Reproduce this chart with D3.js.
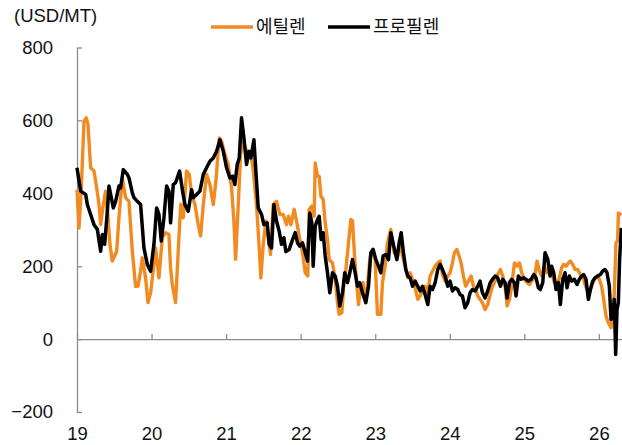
<!DOCTYPE html>
<html>
<head>
<meta charset="utf-8">
<script src="https://cdn.jsdelivr.net/npm/d3@7"></script>
<style>
  body { margin: 0; background: #fff; }
  text { font-family: "Liberation Sans", "Noto Sans CJK KR", sans-serif; }
</style>
</head>
<body>
<div id="viz"></div>
<script>
// weekly-ish prices, x = decimal year
const ethYear = [2019.000,2019.027,2019.058,2019.094,2019.125,2019.147,2019.183,2019.228,2019.264,2019.295,2019.317,2019.353,2019.384,2019.416,2019.442,2019.473,2019.505,2019.532,2019.563,2019.607,2019.630,2019.652,2019.697,2019.742,2019.786,2019.818,2019.853,2019.876,2019.920,2019.952,2019.987,2020.032,2020.054,2020.099,2020.144,2020.188,2020.233,2020.255,2020.278,2020.322,2020.367,2020.392,2020.425,2020.470,2020.506,2020.537,2020.582,2020.626,2020.658,2020.694,2020.738,2020.783,2020.828,2020.863,2020.908,2020.939,2020.984,2021.029,2021.073,2021.105,2021.127,2021.163,2021.194,2021.230,2021.274,2021.319,2021.355,2021.408,2021.444,2021.466,2021.498,2021.534,2021.565,2021.596,2021.632,2021.676,2021.721,2021.766,2021.810,2021.837,2021.869,2021.913,2021.958,2021.989,2022.025,2022.061,2022.096,2022.114,2022.150,2022.181,2022.195,2022.226,2022.248,2022.271,2022.302,2022.329,2022.360,2022.382,2022.427,2022.463,2022.494,2022.516,2022.552,2022.583,2022.606,2022.642,2022.673,2022.695,2022.726,2022.753,2022.776,2022.807,2022.838,2022.865,2022.896,2022.927,2022.963,2022.999,2023.030,2023.075,2023.097,2023.133,2023.164,2023.209,2023.254,2023.303,2023.334,2023.366,2023.401,2023.437,2023.468,2023.500,2023.535,2023.571,2023.602,2023.634,2023.669,2023.705,2023.736,2023.768,2023.803,2023.839,2023.870,2023.902,2023.937,2023.973,2024.004,2024.036,2024.062,2024.094,2024.125,2024.152,2024.183,2024.214,2024.250,2024.286,2024.317,2024.348,2024.375,2024.406,2024.438,2024.474,2024.509,2024.541,2024.572,2024.608,2024.643,2024.679,2024.710,2024.742,2024.769,2024.800,2024.831,2024.867,2024.903,2024.934,2024.965,2025.001,2025.037,2025.068,2025.099,2025.135,2025.171,2025.202,2025.233,2025.269,2025.305,2025.336,2025.367,2025.403,2025.439,2025.470,2025.501,2025.528,2025.559,2025.591,2025.617,2025.649,2025.680,2025.716,2025.751,2025.783,2025.814,2025.841,2025.872,2025.903,2025.939,2025.975,2026.006,2026.037,2026.064,2026.096,2026.127,2026.163,2026.185,2026.207,2026.229,2026.250,2026.262,2026.300];
const ethPrice = [410,305,415,598,607,589,470,461,415,369,314,369,406,333,260,214,228,241,333,442,415,388,378,241,145,145,187,223,168,100,127,205,250,168,278,292,287,196,150,100,278,370,333,461,452,397,369,314,283,369,452,424,369,433,552,543,506,479,415,324,219,369,506,543,515,515,479,369,250,168,260,324,278,232,369,378,342,342,314,337,314,356,310,273,237,182,173,356,365,337,483,447,447,392,383,319,273,218,209,164,100,68,72,164,191,264,328,324,218,145,95,145,155,113,145,218,246,218,68,68,155,200,264,301,237,228,264,228,200,168,182,164,141,109,118,132,145,127,173,186,200,209,214,177,159,173,182,209,237,246,228,209,173,145,159,173,145,136,118,109,100,81,95,122,145,159,177,191,173,145,91,109,145,209,200,209,182,164,155,150,159,168,214,187,173,200,182,191,182,155,150,168,196,205,200,209,214,205,191,191,177,173,150,136,127,145,164,173,164,145,109,63,45,31,63,127,264,270,346,340];

const proYear = [2019.000,2019.049,2019.116,2019.139,2019.183,2019.228,2019.273,2019.317,2019.340,2019.371,2019.407,2019.429,2019.460,2019.487,2019.518,2019.563,2019.585,2019.621,2019.675,2019.697,2019.742,2019.764,2019.809,2019.853,2019.898,2019.943,2019.987,2020.032,2020.068,2020.099,2020.130,2020.166,2020.202,2020.233,2020.255,2020.291,2020.322,2020.376,2020.416,2020.448,2020.492,2020.537,2020.559,2020.604,2020.649,2020.694,2020.738,2020.783,2020.828,2020.872,2020.917,2020.962,2021.006,2021.051,2021.087,2021.118,2021.149,2021.176,2021.207,2021.239,2021.274,2021.306,2021.332,2021.373,2021.399,2021.431,2021.475,2021.507,2021.551,2021.578,2021.609,2021.641,2021.676,2021.712,2021.743,2021.775,2021.801,2021.846,2021.891,2021.927,2021.958,2021.989,2022.025,2022.061,2022.092,2022.123,2022.150,2022.168,2022.195,2022.226,2022.248,2022.275,2022.302,2022.329,2022.360,2022.391,2022.427,2022.463,2022.494,2022.525,2022.561,2022.592,2022.628,2022.659,2022.695,2022.731,2022.762,2022.793,2022.829,2022.874,2022.910,2022.941,2022.972,2023.008,2023.044,2023.075,2023.106,2023.142,2023.178,2023.209,2023.258,2023.290,2023.321,2023.348,2023.379,2023.410,2023.437,2023.468,2023.500,2023.535,2023.571,2023.602,2023.634,2023.669,2023.705,2023.736,2023.768,2023.803,2023.839,2023.870,2023.902,2023.937,2023.973,2024.004,2024.036,2024.071,2024.107,2024.138,2024.170,2024.205,2024.241,2024.272,2024.304,2024.340,2024.375,2024.406,2024.438,2024.474,2024.509,2024.541,2024.572,2024.608,2024.643,2024.679,2024.710,2024.742,2024.769,2024.800,2024.831,2024.867,2024.889,2024.920,2024.956,2024.992,2025.023,2025.054,2025.090,2025.126,2025.157,2025.188,2025.215,2025.247,2025.278,2025.314,2025.345,2025.367,2025.394,2025.425,2025.457,2025.483,2025.515,2025.546,2025.573,2025.604,2025.635,2025.671,2025.707,2025.738,2025.769,2025.796,2025.827,2025.859,2025.886,2025.917,2025.948,2025.984,2026.020,2026.051,2026.082,2026.109,2026.140,2026.163,2026.189,2026.207,2026.225,2026.243,2026.261,2026.278,2026.301];
const proPrice = [470,406,397,369,342,314,301,241,287,260,351,420,388,360,378,420,415,465,452,442,401,388,378,369,250,205,186,260,360,342,269,333,420,406,319,424,429,461,406,369,351,410,388,397,406,452,470,488,497,515,547,515,470,442,447,424,479,497,607,552,479,515,497,547,461,360,342,314,319,260,250,369,324,296,260,278,240,246,273,292,264,255,264,237,214,346,319,200,310,328,337,273,292,228,182,127,182,173,145,91,127,182,155,182,218,182,145,155,127,100,145,237,246,218,200,182,228,232,218,292,246,218,264,292,237,191,173,168,145,159,145,132,145,122,95,145,136,154,191,205,191,173,145,159,132,141,136,122,118,86,100,127,136,132,145,159,127,113,132,154,164,173,168,145,164,155,113,155,164,155,118,173,164,168,164,159,164,177,168,141,136,155,237,219,173,200,182,136,155,95,164,182,141,173,159,164,150,164,173,177,164,109,136,159,168,173,177,187,191,182,145,54,72,109,-42,81,100,219,305];

const seriesNames = ["에틸렌", "프로필렌"];
const seriesColors = ["#F28A22", "#000000"];
const yearTicks = [2019, 2020, 2021, 2022, 2023, 2024, 2025, 2026];
const yearLabels = ["19", "20", "21", "22", "23", "24", "25", "26"];
const priceTicks = [-200, 0, 200, 400, 600, 800];

const width = 622, height = 445;
const axisGrey = "#8c8c8c";

const svg = d3.select("#viz").append("svg")
  .attr("width", width)
  .attr("height", height);

const xScale = d3.scaleLinear()
  .domain([2019, 2026.31])
  .range([77, 622]);

const yScale = d3.scaleLinear()
  .domain([-200, 800])
  .range([412, 47.5]);

// y axis, ticks pointing inwards
const yAxis = svg.append("g")
  .attr("transform", `translate(${xScale(2019)},0)`)
  .call(d3.axisLeft(yScale).tickValues(priceTicks).tickSize(-5).tickPadding(24).tickSizeOuter(0));
yAxis.select(".domain").attr("stroke", axisGrey).attr("stroke-width", 1.3);
yAxis.selectAll(".tick line").attr("stroke", axisGrey).attr("stroke-width", 1.3);
yAxis.selectAll(".tick text")
  .attr("font-size", "18.5px")
  .attr("fill", "#111")
  .style("font-family", "Liberation Sans, sans-serif");

// x axis on the zero line, labels at the bottom of the plot
const xAxis = svg.append("g")
  .attr("transform", `translate(0,${yScale(0)})`)
  .call(d3.axisBottom(xScale).tickValues(yearTicks).tickSize(-5).tickSizeOuter(0)
    .tickFormat((d, i) => yearLabels[i]));
xAxis.select(".domain").attr("stroke", axisGrey).attr("stroke-width", 1.3);
xAxis.selectAll(".tick line").attr("stroke", axisGrey).attr("stroke-width", 1.3);
xAxis.selectAll(".tick text")
  .attr("y", yScale(-200) - yScale(0) + 22)
  .attr("dy", "0.35em")
  .attr("font-size", "18.5px")
  .attr("fill", "#111")
  .style("font-family", "Liberation Sans, sans-serif");

const line = d3.line()
  .x(d => xScale(d[0]))
  .y(d => yScale(d[1]));

const ethData = d3.zip(ethYear, ethPrice);
const proData = d3.zip(proYear, proPrice);

svg.append("path")
  .datum(ethData)
  .attr("fill", "none")
  .attr("stroke", seriesColors[0])
  .attr("stroke-width", 3.4)
  .attr("stroke-linejoin", "round")
  .attr("d", line);

svg.append("path")
  .datum(proData)
  .attr("fill", "none")
  .attr("stroke", seriesColors[1])
  .attr("stroke-width", 3.5)
  .attr("stroke-linejoin", "round")
  .attr("d", line);

// unit label
svg.append("text")
  .attr("x", 14)
  .attr("y", 16)
  .attr("dy", "0.35em")
  .attr("font-size", "18.5px")
  .attr("fill", "#111")
  .text("(USD/MT)");

// legend
const legendX = [211, 328];
const legend = svg.append("g");
seriesNames.forEach((name, i) => {
  legend.append("line")
    .attr("x1", legendX[i])
    .attr("x2", legendX[i] + 42)
    .attr("y1", 27)
    .attr("y2", 27)
    .attr("stroke", seriesColors[i])
    .attr("stroke-width", 3.5);
  legend.append("text")
    .attr("x", legendX[i] + 45)
    .attr("y", 27)
    .attr("dy", "0.35em")
    .attr("font-size", "18px")
    .attr("fill", "#111")
    .style("font-family", "Noto Sans CJK KR, sans-serif")
    .text(name);
});
</script>
</body>
</html>
